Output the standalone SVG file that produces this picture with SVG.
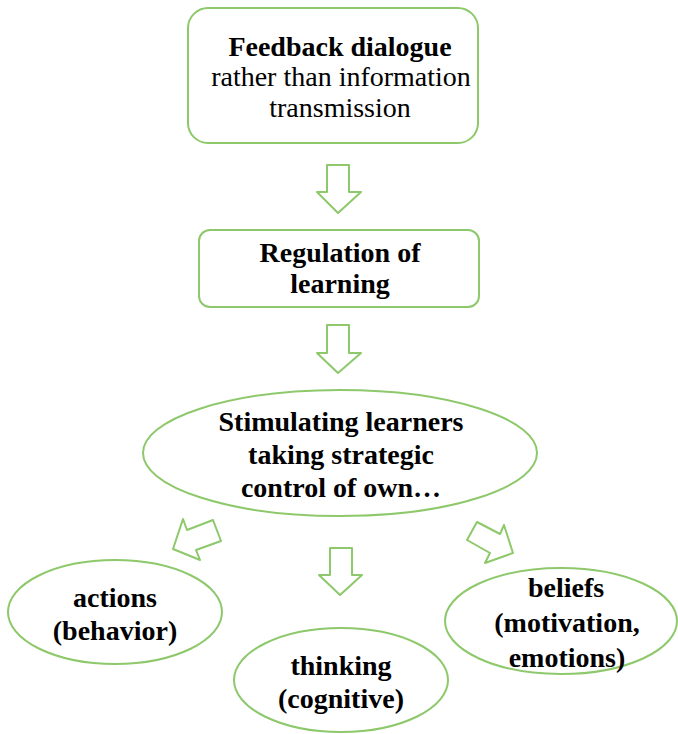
<svg xmlns="http://www.w3.org/2000/svg" width="678" height="734" viewBox="0 0 678 734">
<style>
.shape{fill:#fff;stroke:#8dc86b;stroke-width:2;stroke-linejoin:round}
.arr{fill:#fff;stroke:#8dc86b;stroke-width:2;stroke-linejoin:round}
text{font-family:"Liberation Serif","Times New Roman",serif;font-size:28px;fill:#000;text-anchor:middle}
.b{font-weight:bold}
</style>
<rect width="678" height="734" fill="#fff"/>
<g id="connectors">
<polygon class="arr" points="327,165 349,165 349,192 361,192 338,213 317,192 327,192"/>
<polygon class="arr" points="327,325 349,325 349,353 361,353 338,373 317,353 327,353"/>
<polygon class="arr" points="183,519 187,530 213,520 221,541 196,550 200,560 173,549"/>
<polygon class="arr" points="330,548 352,548 352,575 362,575 340,595 319,575 330,575"/>
<polygon class="arr" points="477,522 500,534 504,525 513,553 485,563 490,553 467,540"/>
</g>
<g id="node-feedback">
<rect class="shape" x="188" y="8" width="290" height="135" rx="20"/>
<text class="b" x="340" y="56">Feedback dialogue</text>
<text x="341" y="86">rather than information</text>
<text x="340" y="117">transmission</text>
</g>
<g id="node-regulation">
<rect class="shape" x="199" y="230" width="280" height="77" rx="11"/>
<text class="b" x="340" y="262">Regulation of</text>
<text class="b" x="340" y="293">learning</text>
</g>
<g id="node-stimulating">
<ellipse class="shape" cx="340" cy="453" rx="197" ry="63"/>
<text class="b" x="341" y="431">Stimulating learners</text>
<text class="b" x="341" y="464">taking strategic</text>
<text class="b" x="341" y="497">control of own…</text>
</g>
<g id="node-actions">
<ellipse class="shape" cx="115" cy="612" rx="107" ry="52"/>
<text class="b" x="115" y="607">actions</text>
<text class="b" x="115" y="640">(behavior)</text>
</g>
<g id="node-thinking">
<ellipse class="shape" cx="341" cy="680" rx="107" ry="52"/>
<text class="b" x="341" y="675">thinking</text>
<text class="b" x="341" y="708">(cognitive)</text>
</g>
<g id="node-beliefs">
<ellipse class="shape" cx="561" cy="621" rx="116" ry="53"/>
<text class="b" x="566" y="597">beliefs</text>
<text class="b" x="567" y="632">(motivation,</text>
<text class="b" x="567" y="667">emotions)</text>
</g>
</svg>
